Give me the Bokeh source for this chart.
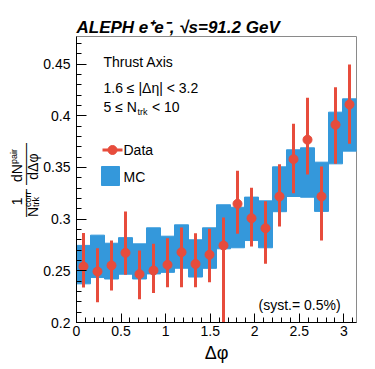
import numpy as np
from bokeh.plotting import figure
from bokeh.models import Range1d, FixedTicker, Label
from bokeh.embed import file_html
from bokeh.resources import INLINE

# ---------------- data ----------------
n_bins = 20
x_min, x_max = 0.0, np.pi
y_min, y_max = 0.2, 0.4767

mc_values = [0.2560, 0.2640, 0.2594, 0.2644, 0.2591, 0.2693, 0.2660, 0.2735, 0.2620, 0.2720,
             0.2926, 0.2919, 0.3003, 0.2950, 0.3289, 0.3445, 0.3451, 0.3313, 0.3785, 0.3911]
mc_errors = [0.0186, 0.0205, 0.0173, 0.0177, 0.0170, 0.0223, 0.0175, 0.0210, 0.0180, 0.0196,
             0.0213, 0.0196, 0.0210, 0.0227, 0.0217, 0.0226, 0.0239, 0.0238, 0.0250, 0.0253]

data_values = [0.2542, 0.2493, 0.2552, 0.2674, 0.2468, 0.2503, 0.2558, 0.2680, 0.2566, 0.2656,
               0.2745, 0.3148, 0.3009, 0.2912, 0.3219, 0.3580, 0.3768, 0.3219, 0.3913, 0.4109]
data_low = [0.2338, 0.2196, 0.2310, 0.2463, 0.2226, 0.2286, 0.2342, 0.2342, 0.2342, 0.2390,
            0.1900, 0.2858, 0.2735, 0.2568, 0.2929, 0.3251, 0.3432, 0.2793, 0.3535, 0.3729]
data_high = [0.2866, 0.2719, 0.2793, 0.3074, 0.2697, 0.2761, 0.2816, 0.2919, 0.2864, 0.2906,
             0.3016, 0.3467, 0.3303, 0.3174, 0.3532, 0.3923, 0.4174, 0.3510, 0.4277, 0.4496]

x_tick_values = [0, 0.5, 1, 1.5, 2, 2.5, 3]
x_tick_labels = ["0", "0.5", "1", "1.5", "2", "2.5", "3"]
y_tick_values = [0.2, 0.25, 0.3, 0.35, 0.4, 0.45]
y_tick_labels = ["0.2", "0.25", "0.3", "0.35", "0.4", "0.45"]

RED = "#e74c3c"
BLUE = "#3498db"
FONT = "Liberation Sans"
NB = "\u00a0"

# ---------------- layout (page pixel coords of the frame) ----------------
W, H = 375, 369
FL, FR, FT, FB = 76, 356, 36, 322


def dx(px):
    return x_min + (px - FL) / (FR - FL) * (x_max - x_min)


def dy(py):
    return y_min + (FB - py) / (FB - FT) * (y_max - y_min)


p = figure(width=W, height=H, output_backend="svg", toolbar_location=None,
           x_range=Range1d(x_min, x_max), y_range=Range1d(y_min, y_max))
p.min_border_left = FL
p.min_border_right = W - FR
p.min_border_top = FT
p.min_border_bottom = H - FB
p.background_fill_color = "white"
p.border_fill_color = "white"
p.outline_line_color = "#8a8a8a"
p.outline_line_width = 1
p.xgrid.visible = False
p.ygrid.visible = False

edges = np.linspace(x_min, x_max, n_bins + 1)
centers = 0.5 * (edges[:-1] + edges[1:])
mc = np.array(mc_values)
mce = np.array(mc_errors)

p.quad(left=edges[:-1], right=edges[1:], bottom=mc - mce, top=mc + mce,
       fill_color=BLUE, line_color=BLUE, line_width=1)

p.segment(x0=centers, y0=data_low, x1=centers, y1=data_high, line_color=RED, line_width=3)
p.scatter(x=centers, y=data_values, size=9, fill_color=RED, line_color=RED)

# ---------------- axes ----------------
xt = FixedTicker(ticks=x_tick_values, minor_ticks=list(np.round(np.arange(0, 3.15, 0.1), 2)))
yt = FixedTicker(ticks=y_tick_values, minor_ticks=list(np.round(np.arange(0.2, 0.4767, 0.01), 2)))
p.xaxis.ticker = xt
p.yaxis.ticker = yt
p.xaxis.major_label_overrides = dict(zip(x_tick_values, x_tick_labels))
p.yaxis.major_label_overrides = dict(zip(y_tick_values, y_tick_labels))
for ax in (p.xaxis, p.yaxis):
    ax.axis_line_color = "black"
    ax.major_tick_line_color = "black"
    ax.minor_tick_line_color = "black"
    ax.major_tick_out = 0
    ax.minor_tick_out = 0
    ax.major_label_text_font = FONT
    ax.major_label_text_font_size = "14px"
    ax.major_label_text_color = "black"
p.xaxis.major_tick_in = 9
p.xaxis.minor_tick_in = 5
p.yaxis.major_tick_in = 10
p.yaxis.minor_tick_in = 5
p.xaxis.major_label_standoff = 3
p.yaxis.major_label_standoff = 6

p.xaxis.axis_label = "\u0394\u03c6"
p.xaxis.axis_label_text_font = FONT
p.xaxis.axis_label_text_font_size = "18px"
p.xaxis.axis_label_text_font_style = "normal"
p.xaxis.axis_label_text_color = "black"
p.xaxis.axis_label_standoff = 4


def lab(text, px, py, size="14px", align="left"):
    # py is the vertical centre of the text on the page
    p.add_layout(Label(x=dx(px), y=dy(py), text=text, text_font=FONT,
                       text_font_size=size, text_align=align, text_baseline="middle",
                       text_color="black"))


def lab_side(text, px, py, side, size="14px", line_height=1.2, angle=np.pi / 2,
             style="normal"):
    # text placed in a side panel, in canvas pixels (so it is not clipped to the frame)
    p.add_layout(Label(x=px, y=py, x_units="canvas", y_units="canvas", text=text,
                       text_font=FONT, text_font_size=size, text_align="left",
                       text_baseline="middle", angle=angle, text_color="black",
                       text_line_height=line_height, text_font_style=style), side)


# title
lab_side("ALEPH e\u207ae\u207b,  \u221as=91.2 GeV", 76, 26.5, "above", size="17px",
         angle=0.0, style="bold italic")

# annotations in the frame
lab("Thrust Axis", 103, 61)
lab("1.6 \u2264 |\u0394\u03b7| < 3.2", 103, 87)
lab("5 \u2264 N", 103, 106.7)
lab("trk", 137, 111, size="9px")
lab("< 10", 151.5, 106.7)
lab("(syst.= 0.5%)", 258, 304.7)

# legend
p.segment(x0=[dx(102)], y0=[dy(149.5)], x1=[dx(122)], y1=[dy(149.5)], line_color=RED, line_width=3)
p.scatter(x=[dx(112)], y=[dy(149.5)], size=9, fill_color=RED, line_color=RED)
lab("Data", 123, 149.7)
p.quad(left=[dx(101)], right=[dx(119)], bottom=[dy(185)], top=[dy(166)],
       fill_color=BLUE, line_color=BLUE)
lab("MC", 123, 176.7)

# y axis title:  1/N_trk^corr  dN^pair/dDelta-phi  (rotated, built from pieces)
main_lines = "\n".join([
    NB * 3 + "1" + NB * 4 + "dN",
    "\u2014\u2014" + NB + "\u2014\u2014\u2014",
    "N" + NB * 7 + "d\u0394\u03c6",
])
lab_side(main_lines, 24, 216.5, "left", size="14px", line_height=0.5)
lab_side("corr\n" + "trk", 31.25, 206.5, "right", size="9px", line_height=0.83)
lab_side("pair", 13, 163.5, "above", size="9px")

open("out.html", "w").write(file_html(p, INLINE))
